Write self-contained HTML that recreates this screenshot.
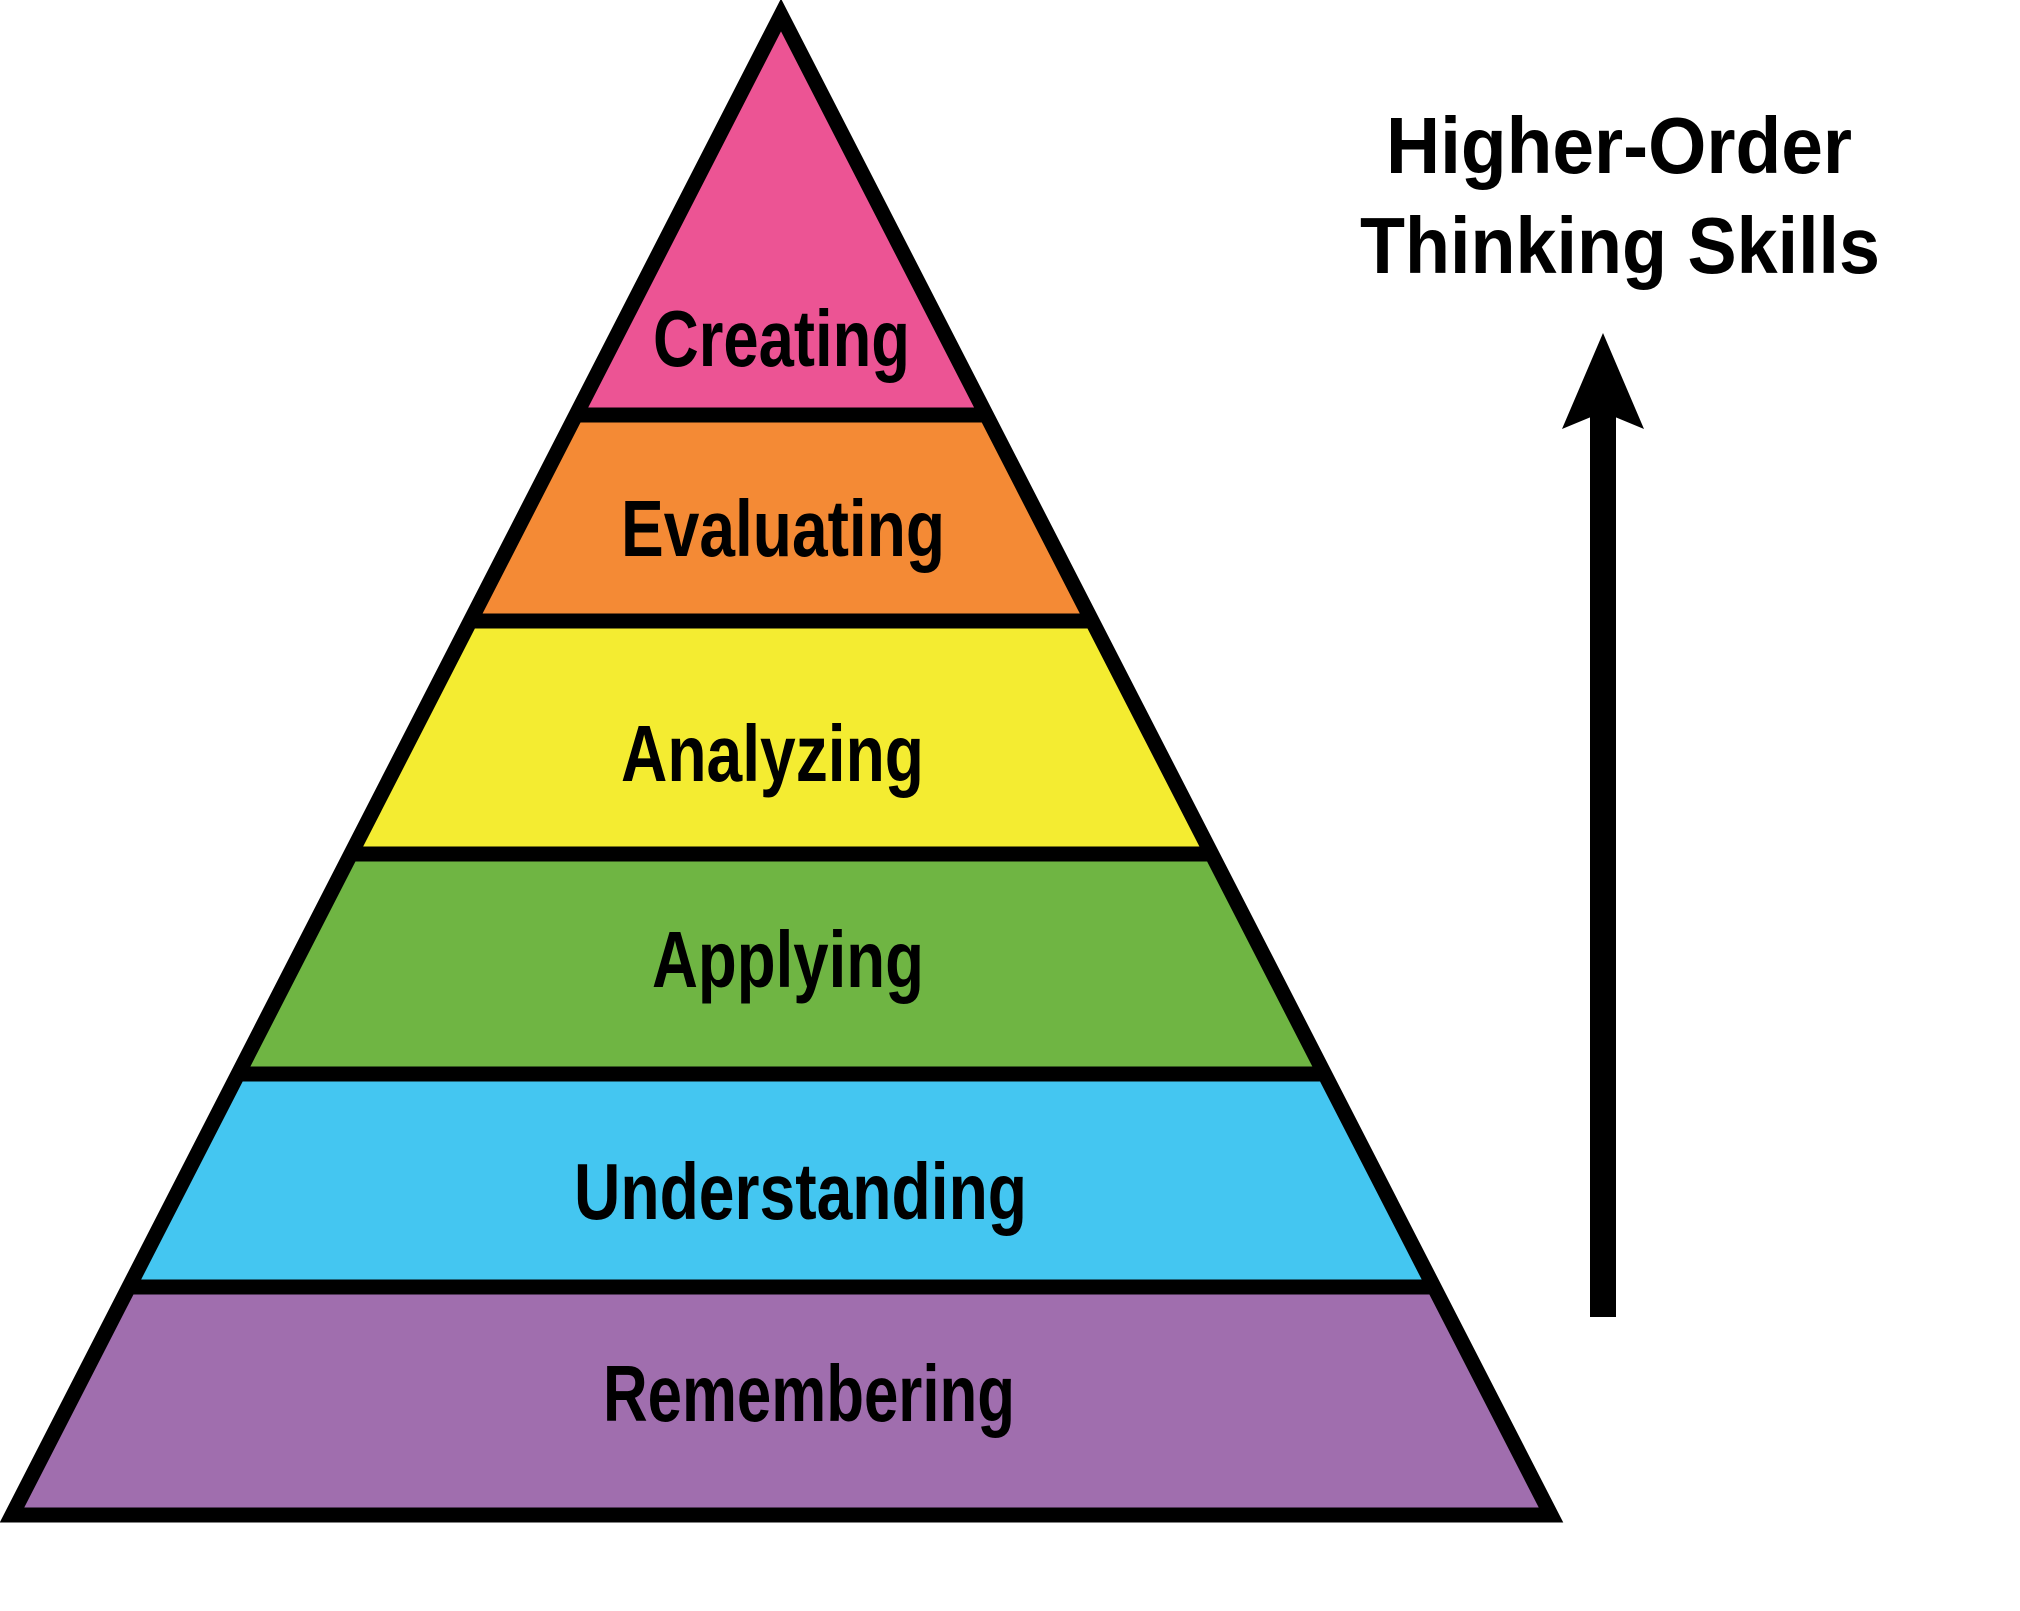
<!DOCTYPE html>
<html><head><meta charset="utf-8"><style>html,body{margin:0;padding:0;background:#fff}svg{display:block}</style></head>
<body>
<svg width="2020" height="1611" viewBox="0 0 2020 1611" xmlns="http://www.w3.org/2000/svg">
<defs><clipPath id="tri"><polygon points="781,15 12,1515 1551,1515"/></clipPath></defs>
<g clip-path="url(#tri)">
<rect x="0" y="0" width="2020" height="415" fill="#EC5494"/>
<rect x="0" y="415" width="2020" height="206" fill="#F48A35"/>
<rect x="0" y="621" width="2020" height="233" fill="#F4EC31"/>
<rect x="0" y="854" width="2020" height="220" fill="#6FB543"/>
<rect x="0" y="1074" width="2020" height="213" fill="#44C6F1"/>
<rect x="0" y="1287" width="2020" height="235" fill="#A06EAE"/>
<g stroke="#000" stroke-width="15">
<line x1="0" y1="415" x2="2020" y2="415"/>
<line x1="0" y1="621" x2="2020" y2="621"/>
<line x1="0" y1="854" x2="2020" y2="854"/>
<line x1="0" y1="1074" x2="2020" y2="1074"/>
<line x1="0" y1="1287" x2="2020" y2="1287"/>
</g>
</g>
<polygon points="781,15 12,1515 1551,1515" fill="none" stroke="#000" stroke-width="15" stroke-linejoin="miter" stroke-miterlimit="10"/>
<g font-family="'Liberation Sans Narrow','Liberation Sans',sans-serif" font-weight="bold" font-size="80" fill="#000">
<text x="653" y="366" textLength="257" lengthAdjust="spacingAndGlyphs">Creating</text>
<text x="621" y="556" textLength="324" lengthAdjust="spacingAndGlyphs">Evaluating</text>
<text x="621" y="781" textLength="303" lengthAdjust="spacingAndGlyphs">Analyzing</text>
<text x="652" y="987" textLength="272" lengthAdjust="spacingAndGlyphs">Applying</text>
<text x="574" y="1219" textLength="453" lengthAdjust="spacingAndGlyphs">Understanding</text>
<text x="603" y="1421" textLength="412" lengthAdjust="spacingAndGlyphs">Remembering</text>
<text x="1386" y="173" textLength="466" lengthAdjust="spacingAndGlyphs">Higher-Order</text>
<text x="1360" y="273" textLength="520" lengthAdjust="spacingAndGlyphs">Thinking Skills</text>
</g>
<rect x="1590" y="406" width="26" height="911" fill="#000"/>
<polygon points="1603,333 1644,429 1603,412 1562,429" fill="#000"/>
</svg>
</body></html>
